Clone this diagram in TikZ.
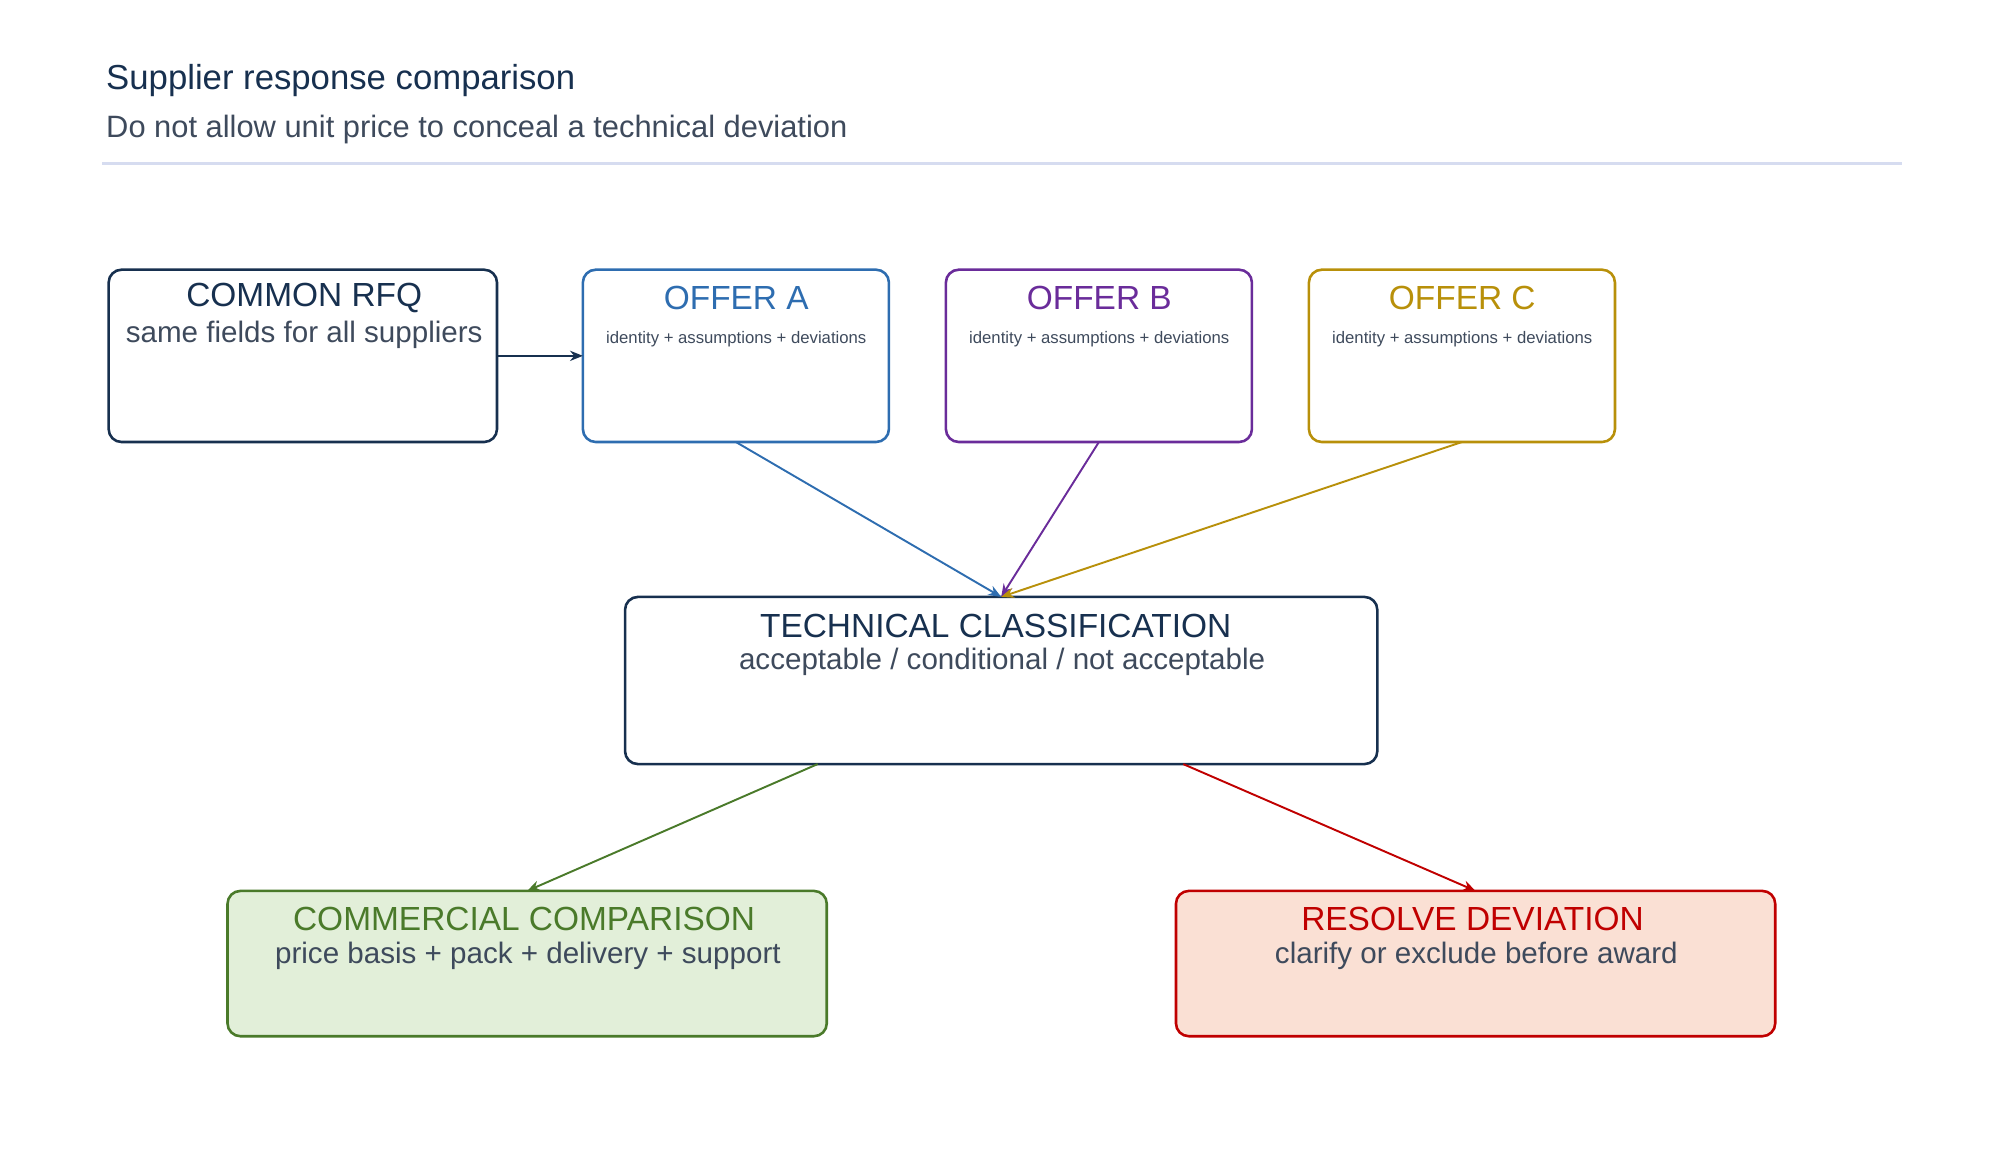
\documentclass[tikz,border=0pt]{standalone}
\usepackage{fontspec}
\setmainfont{Liberation Sans}
\usetikzlibrary{calc,arrows.meta}
\definecolor{navy}{HTML}{17304F}
\definecolor{txtgray}{HTML}{3E4A5C}
\definecolor{offa}{HTML}{2E6DB0}
\definecolor{offb}{HTML}{6A2C9A}
\definecolor{offc}{HTML}{B8900A}
\definecolor{comm}{HTML}{4A7A2A}
\definecolor{commfill}{HTML}{E2EFD9}
\definecolor{resv}{HTML}{C00000}
\definecolor{resvfill}{HTML}{FAE0D4}
\definecolor{rule}{HTML}{D6DCF0}
\tikzset{>={Stealth[length=5pt,width=4pt]},
  box/.style={draw, line width=1pt, rounded corners=5pt, anchor=north west, inner sep=0pt, outer sep=0pt},
  head/.style={font=\fontsize{13}{15}\selectfont},
  sub/.style={font=\fontsize{11.5}{13}\selectfont, text=txtgray},
  tiny/.style={font=\fontsize{6.5}{8}\selectfont, text=txtgray},
  link/.style={->, line width=0.75pt}}

\begin{document}
\begin{tikzpicture}[x=0.497pt,y=-0.497pt]
        \useasboundingbox (0,0) rectangle (1560,908);
        \node[anchor=west, text=navy, font=\fontsize{13.5}{15}\selectfont] (ttl) at (76,63) {Supplier response comparison};
        \node[anchor=west, sub, font=\fontsize{12}{14}\selectfont] (subttl) at (76,101) {Do not allow unit price to conceal a technical deviation};
        \draw[rule, line width=1pt](80,128)--(1488,128);

        \node[box, navy, minimum width=151pt, minimum height=67pt] (rfq) at (85,211) {};
        \node[box, offa, minimum width=119pt, minimum height=67pt] (a) at (456,211) {};
        \node[box, offb, minimum width=119pt, minimum height=67pt] (b) at (740,211) {};
        \node[box, offc, minimum width=119pt, minimum height=67pt] (c) at (1024,211) {};
        \node[box, navy, minimum width=292.5pt, minimum height=65pt] (tech) at (489,467) {};
        \node[box, comm, fill=commfill, minimum width=233pt, minimum height=56.5pt] (com) at (178,697) {};
        \node[box, resv, fill=resvfill, minimum width=233pt, minimum height=56.5pt] (res) at (920,697) {};

        \node[head, text=navy] at (238,233) {COMMON RFQ};
        \node[sub] at (238,262) {same fields for all suppliers};
        \node[head, text=offa] at (576,233) {OFFER A};
        \node[tiny] at (576,265) {identity + assumptions + deviations};
        \node[head, text=offb] at (860,233) {OFFER B};
        \node[tiny] at (860,265) {identity + assumptions + deviations};
        \node[head, text=offc] at (1144,233) {OFFER C};
        \node[tiny] at (1144,265) {identity + assumptions + deviations};
        \node[head, text=navy] at (779,490) {TECHNICAL CLASSIFICATION};
        \node[sub] at (784,518) {acceptable / conditional / not acceptable};
        \node[head, text=comm] at (410,719) {COMMERCIAL COMPARISON};
        \node[sub] at (413,748) {price basis + pack + delivery + support};
        \node[head, text=resv] at (1152,719) {RESOLVE DEVIATION};
        \node[sub] at (1155,748) {clarify or exclude before award};

        \draw[link, navy](rfq.east)--(a.west);
        \draw[link, offa](a.south)--(tech.north);
        \draw[link, offb](b.south)--(tech.north);
        \draw[link, offc](c.south)--(tech.north);
        \draw[link, comm]($(tech.south west)!0.256!(tech.south east)$)--(com.north);
        \draw[link, resv]($(tech.south west)!0.742!(tech.south east)$)--(res.north);
    \end{tikzpicture}
\end{document}
